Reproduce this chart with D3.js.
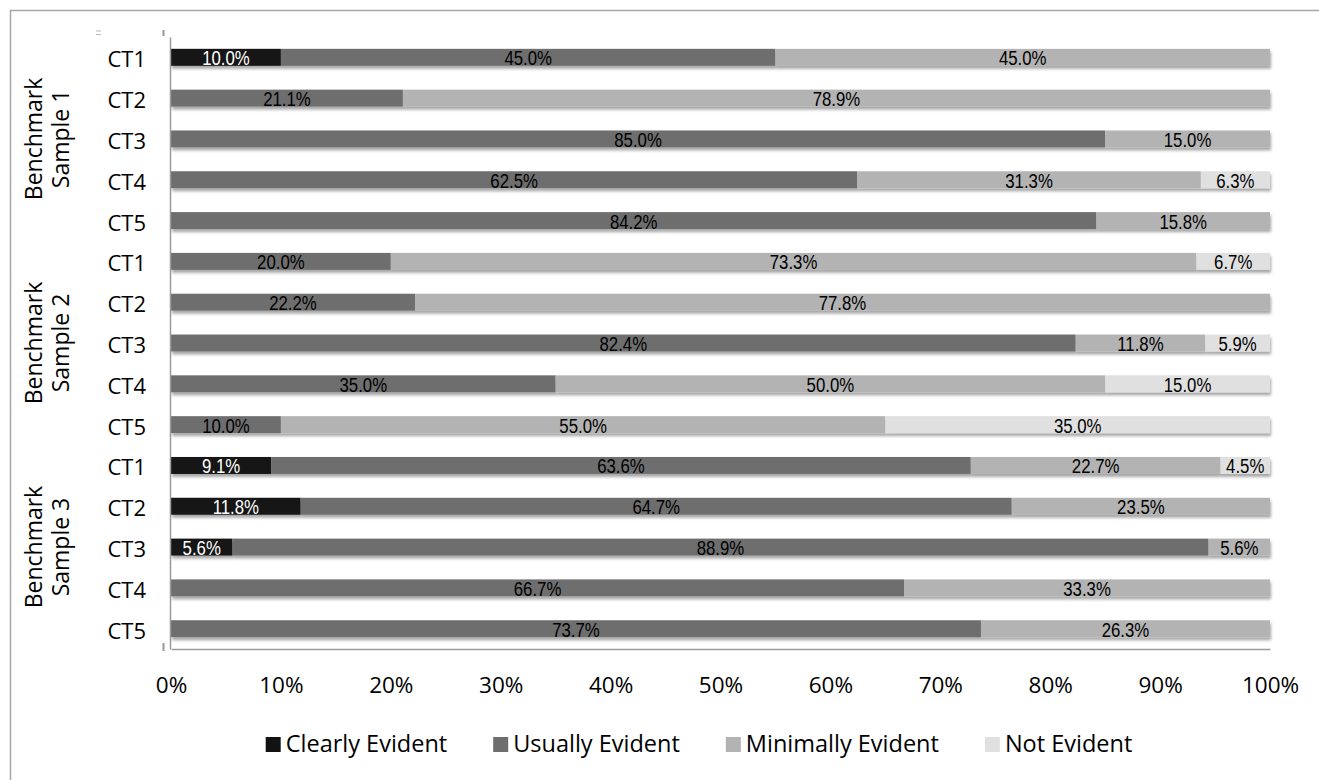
<!DOCTYPE html>
<html>
<head>
<meta charset="utf-8">
<script src="https://cdn.jsdelivr.net/npm/d3@7"></script>
<style>
  html, body { margin: 0; padding: 0; background: #fff; }
  svg { display: block; }
  .lab { font-family: "Open Sans", Lato, sans-serif; fill: #000; }
  .val { font-family: "Liberation Sans", Arial, sans-serif; }
</style>
</head>
<body>
<svg id="chart" width="1319" height="780"></svg>
<script>
// Rating categories, in stacking order
const series = ["Clearly Evident", "Usually Evident", "Minimally Evident", "Not Evident"];
const groups = ["Benchmark Sample 1", "Benchmark Sample 2", "Benchmark Sample 3"];
const tasks = ["CT1", "CT2", "CT3", "CT4", "CT5"];
const xTicks = [0, 0.1, 0.2, 0.3, 0.4, 0.5, 0.6, 0.7, 0.8, 0.9, 1.0];

// Percentages per row (group × task), one array per rating
const clearlyEvident   = [10.0, 0, 0, 0, 0,    0, 0, 0, 0, 0,    9.1, 11.8, 5.6, 0, 0];
const usuallyEvident   = [45.0, 21.1, 85.0, 62.5, 84.2,   20.0, 22.2, 82.4, 35.0, 10.0,   63.6, 64.7, 88.9, 66.7, 73.7];
const minimallyEvident = [45.0, 78.9, 15.0, 31.3, 15.8,   73.3, 77.8, 11.8, 50.0, 55.0,   22.7, 23.5, 5.6, 33.3, 26.3];
const notEvident       = [0, 0, 0, 6.3, 0,    6.7, 0, 5.9, 15.0, 35.0,    4.5, 0, 0, 0, 0];

const colors = ["#121212", "#6e6e6e", "#b3b3b3", "#e0e0e0"];
const labelColors = ["#ffffff", "#000000", "#000000", "#000000"];

const rows = [];
groups.forEach((g, gi) => tasks.forEach((t, ti) => {
  const i = gi * tasks.length + ti;
  rows.push({
    key: g + "|" + t, group: g, task: t,
    [series[0]]: clearlyEvident[i],
    [series[1]]: usuallyEvident[i],
    [series[2]]: minimallyEvident[i],
    [series[3]]: notEvident[i]
  });
}));

const svg = d3.select("#chart");
const margin = { left: 171, right: 49, top: 37, bottom: 131 };
const W = 1319, H = 780;

// outer chart frame (continues past the right and bottom edges)
svg.append("rect").attr("x", 10.5).attr("y", 10.5).attr("width", 1400).attr("height", 900)
  .attr("fill", "none").attr("stroke", "#a6a6a6").attr("stroke-width", 1.5);

const x = d3.scaleLinear().domain([0, 1]).range([margin.left, W - margin.right]);
const y = d3.scaleBand().domain(rows.map(d => d.key)).range([margin.top, H - margin.bottom]).paddingInner(0.585).paddingOuter(0.29);

const stack = d3.stack().keys(series).offset(d3.stackOffsetExpand);
const stacked = stack(rows);

// soft shadow under the bars
const defs = svg.append("defs");
const f = defs.append("filter").attr("id", "shadow").attr("x", "-5%").attr("y", "-50%").attr("width", "110%").attr("height", "250%");
f.append("feDropShadow").attr("dx", 1).attr("dy", 3).attr("stdDeviation", 1.6)
  .attr("flood-color", "#000").attr("flood-opacity", 0.35);

const layers = svg.append("g").attr("filter", "url(#shadow)");
layers.selectAll("g").data(stacked).join("g")
  .attr("fill", (d, i) => colors[i])
  .selectAll("rect").data(d => d.filter(s => s[1] - s[0] > 0)).join("rect")
  .attr("x", d => x(d[0]))
  .attr("y", d => y(d.data.key))
  .attr("width", d => x(d[1]) - x(d[0]))
  .attr("height", y.bandwidth());

// value labels, centred in each segment
const valG = svg.append("g");
stacked.forEach((layer, si) => {
  layer.forEach(s => {
    const v = s.data[series[si]];
    if (!v) return;
    const cx = (x(s[0]) + x(s[1])) / 2;
    const cy = y(s.data.key) + y.bandwidth() / 2 + 8;
    valG.append("text").attr("class", "val")
      .attr("transform", `translate(${cx},${cy}) scale(0.8,1)`)
      .attr("text-anchor", "middle")
      .attr("font-size", 21)
      .attr("fill", labelColors[si])
      .text(v.toFixed(1) + "%");
  });
});

// axes
const xAxis = svg.append("g").attr("transform", `translate(0,${H - margin.bottom})`)
  .call(d3.axisBottom(x).tickValues(xTicks).tickFormat(d3.format(".0%")).tickSize(0));
xAxis.select(".domain").attr("stroke", "#9a9a9a").attr("stroke-width", 1.5);
xAxis.selectAll("text").attr("class", "lab").attr("dy", null).attr("y", 44)
  .attr("font-size", 22.5).attr("fill", "#000");

const yAxis = svg.append("g").attr("transform", `translate(${margin.left - 1},0)`)
  .call(d3.axisLeft(y).tickFormat(k => k.split("|")[1]).tickSize(0));
yAxis.select(".domain").attr("stroke", "#9a9a9a").attr("stroke-width", 1.5);
yAxis.selectAll("text").attr("class", "lab").attr("dy", null).attr("y", 10).attr("x", -24)
  .attr("font-size", 22).attr("fill", "#000");

// small tick stubs at the ends of the category axis
svg.append("line").attr("x1", 163.5).attr("x2", 163.5).attr("y1", 30).attr("y2", 36)
  .attr("stroke", "#999").attr("stroke-width", 2);
svg.append("line").attr("x1", 163.5).attr("x2", 163.5).attr("y1", 643).attr("y2", 651)
  .attr("stroke", "#999").attr("stroke-width", 2);
[31, 34.5].forEach(yy => svg.append("line").attr("x1", 96).attr("x2", 101).attr("y1", yy).attr("y2", yy)
  .attr("stroke", "#bbb").attr("stroke-width", 1));

// group labels, rotated, two lines each
groups.forEach(g => {
  const keys = tasks.map(t => g + "|" + t);
  const cy = (y(keys[0]) + y(keys[keys.length - 1]) + y.bandwidth()) / 2;
  const words = g.split(" ");
  const lines = [words[0], words.slice(1).join(" ")];
  lines.forEach((ln, li) => {
    svg.append("text").attr("class", "lab")
      .attr("transform", `translate(${42 + li * 27},${cy}) rotate(-90)`)
      .attr("text-anchor", "middle").attr("font-size", 23)
      .text(ln);
  });
});

// legend, centred below the axis
const legend = svg.append("g");
const items = legend.selectAll("g").data(series).join("g");
items.append("rect").attr("width", 15).attr("height", 15).attr("y", -15)
  .attr("fill", (d, i) => colors[i]);
items.append("text").attr("class", "lab").attr("x", 20).attr("font-size", 23.5).text(d => d);
let cursor = 0;
items.each(function () {
  const w = 20 + this.querySelector("text").getComputedTextLength();
  d3.select(this).attr("data-x", cursor);
  cursor += w + 46;
});
const total = cursor - 46;
const startX = 699 - total / 2;
items.attr("transform", function () { return `translate(${startX + +this.getAttribute("data-x")},752)`; });
</script>
</body>
</html>
